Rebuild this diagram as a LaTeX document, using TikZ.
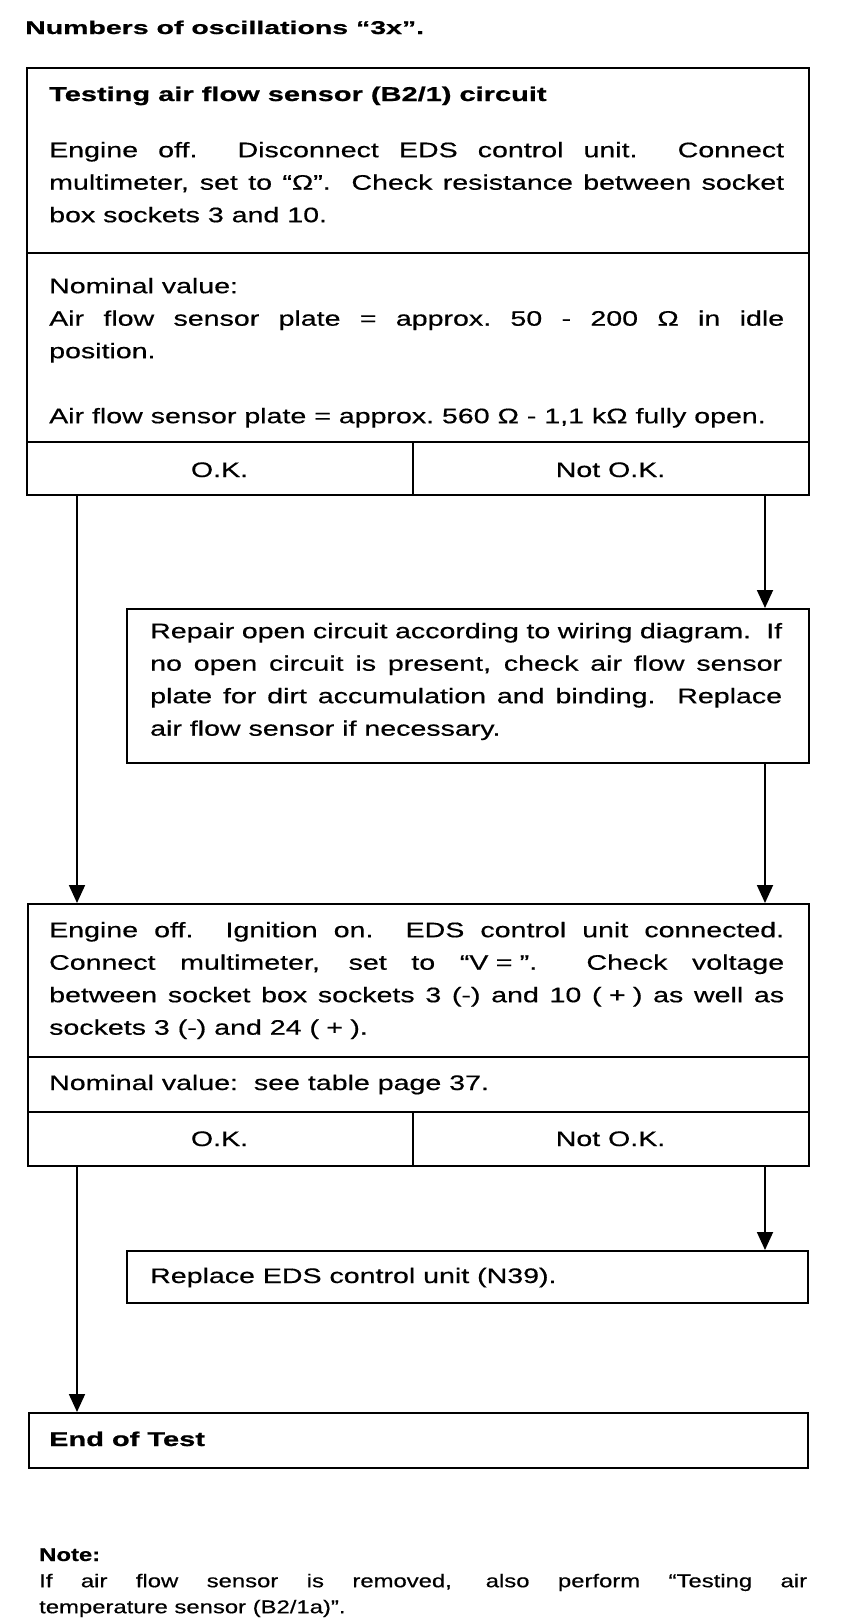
\documentclass[tikz,border=0pt]{standalone}
\usepackage{fontspec}
\setmainfont{Liberation Sans}
\newfontfamily\rgfont{Liberation Sans}[FakeStretch=1.36, FakeBold=0.5]
\newfontfamily\bdfont{Liberation Sans}[FakeStretch=1.45, FakeBold=0.8]
\newfontfamily\ntfont{Liberation Sans}[FakeStretch=1.29, FakeBold=0.5]
\newfontfamily\tlfont{Liberation Sans}[FakeStretch=1.54, FakeBold=0.8]
\usetikzlibrary{arrows.meta}
\newcommand{\gap}{\hspace{0.35em}}
\tikzset{
  box/.style={draw, line width=2.2pt, inner sep=0pt, anchor=north west},
  rule/.style={line width=2.2pt},
  para/.style={anchor=north west, inner sep=0pt, align=justify, font=\rgfont\fontsize{21}{32.5}\selectfont},
  txt/.style={anchor=base west, inner sep=0pt, font=\rgfont\fontsize{21}{32.5}\selectfont},
  bold/.style={anchor=base west, inner sep=0pt, font=\bdfont\bfseries\fontsize{20}{32}\selectfont},
  lbl/.style={anchor=base, inner sep=0pt, font=\rgfont\fontsize{21}{32.5}\selectfont},
  notepara/.style={anchor=north west, inner sep=0pt, align=justify, font=\ntfont\fontsize{18.5}{26}\selectfont},
  flow/.style={line width=1.8pt, -{Triangle[length=18pt,width=16pt]}},
}
\begin{document}
\begin{tikzpicture}[x=1pt,y=-1pt]
\useasboundingbox (0,0) rectangle (864,1622);
% title
\node[anchor=base west, inner sep=0pt, font=\tlfont\bfseries\fontsize{18.5}{20}\selectfont] (title) at (25,34) {Numbers of oscillations “3x”.};
% box 1
\node[box, minimum width=782pt, minimum height=427pt] (b1) at (26,67) {};
\draw[rule] (26,253) -- (808,253);
\draw[rule] (26,442) -- (808,442);
\draw[rule] (413,442) -- (413,494);
\node[bold] (b1title) at (49,101) {Testing air flow sensor (B2/1) circuit};
\node[para, text width=735pt] (b1text) at (49,134.25) {\strut Engine off.\ \ Disconnect EDS control unit.\ \ Connect\linebreak multimeter, set to “Ω”.\ \ Check resistance between socket\linebreak box sockets 3 and 10.};
\node[para, text width=735pt] (b1nom) at (49,270.25) {\strut Nominal value:\par Air flow sensor plate = approx.\ 50 - 200 Ω in idle\linebreak position.\par\vspace{32.5pt}Air flow sensor plate = approx.\ 560 Ω - 1,1 kΩ fully open.};
\node[lbl] (b1ok) at (219.5,477) {O.K.};
\node[lbl] (b1nok) at (610.5,477) {Not O.K.};
% box 2
\node[box, minimum width=682pt, minimum height=154pt] (b2) at (126,608) {};
\node[para, text width=632pt] (b2text) at (150,615.25) {\strut Repair open circuit according to wiring diagram.\ \ If\linebreak no open circuit is present, check air flow sensor\linebreak plate for dirt accumulation and binding.\ \ Replace\linebreak air flow sensor if necessary.};
% box 3
\node[box, minimum width=781pt, minimum height=262pt] (b3) at (27,903) {};
\draw[rule] (27,1057) -- (808,1057);
\draw[rule] (27,1112) -- (808,1112);
\draw[rule] (413,1112) -- (413,1165);
\node[para, text width=735pt] (b3text) at (49,914.25) {\strut Engine off.\ \ Ignition on.\ \ EDS control unit connected.\linebreak Connect multimeter, set to “V\gap=\gap”.\ \ Check voltage\linebreak between socket box sockets 3 (-) and 10 (\gap+\gap) as well as\linebreak sockets 3 (-) and 24 (\gap+\gap).};
\node[txt] (b3nom) at (49,1090) {Nominal value:\ \ see table page 37.};
\node[lbl] (b3ok) at (219.5,1146) {O.K.};
\node[lbl] (b3nok) at (610.5,1146) {Not O.K.};
% box 4
\node[box, minimum width=681pt, minimum height=52pt] (b4) at (126,1250) {};
\node[txt] (b4text) at (150,1283) {Replace EDS control unit (N39).};
% box 5
\node[box, minimum width=779pt, minimum height=55pt] (b5) at (28,1412) {};
\node[bold] (b5text) at (49,1446) {End of Test};
% note
\node[anchor=base west, inner sep=0pt, font=\ntfont\bfseries\fontsize{18.5}{26}\selectfont] (notehead) at (39,1561) {Note:};
\node[notepara, text width=768pt] (notetext) at (39,1568.8) {\strut If air flow sensor is removed, also perform “Testing air\linebreak temperature sensor (B2/1a)”.};
% connectors
\coordinate (xl) at (77,0);
\coordinate (xr) at (765,0);
\draw[flow] (b1.south -| xl) -- (b3.north -| xl);
\draw[flow] (b1.south -| xr) -- (b2.north -| xr);
\draw[flow] (b2.south -| xr) -- (b3.north -| xr);
\draw[flow] (b3.south -| xl) -- (b5.north -| xl);
\draw[flow] (b3.south -| xr) -- (b4.north -| xr);
\end{tikzpicture}
\end{document}
